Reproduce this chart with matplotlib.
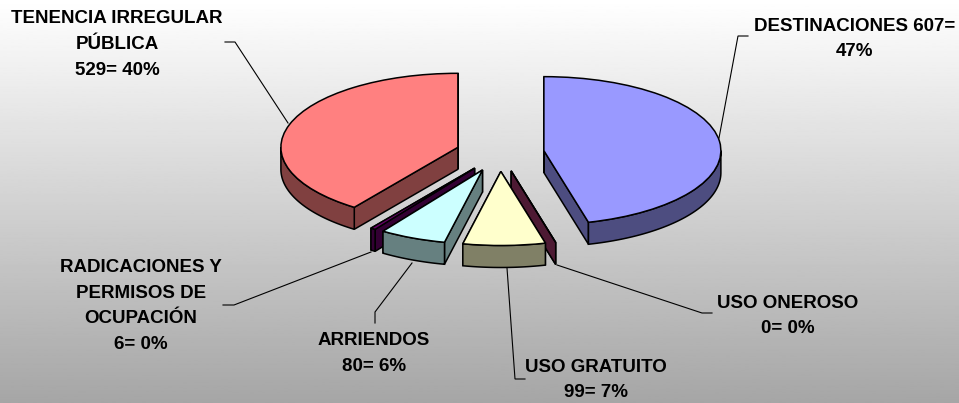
import numpy as np
import matplotlib
matplotlib.use('Agg')
import matplotlib.pyplot as plt
from matplotlib.patches import Polygon

plt.rcParams['font.family'] = ['Liberation Sans', 'DejaVu Sans']

W, H = 959, 403

categories = ['DESTINACIONES', 'USO ONEROSO', 'USO GRATUITO', 'ARRIENDOS',
              'RADICACIONES Y PERMISOS DE OCUPACION', 'TENENCIA IRREGULAR PUBLICA']
values = [607, 0, 99, 80, 6, 529]
colors = ['#9999FF', '#993366', '#FFFFCC', '#CCFFFF', '#660066', '#FF8080']
labels = ['DESTINACIONES 607=\n47%', 'USO ONEROSO\n0= 0%', 'USO GRATUITO\n99= 7%',
          'ARRIENDOS\n80= 6%', 'RADICACIONES Y\nPERMISOS DE\nOCUPACIÓN\n6= 0%',
          'TENENCIA IRREGULAR\nPÚBLICA\n529= 40%']

# where things sit in the picture, in pixels
cx, cy = 500, 153
rx, ry = 177, 74
depth = 22 / ry
label_pos = [(855, 39), (788, 316), (596, 380), (374, 353.5), (141, 306), (117, 44.5)]
leaders = [[(748, 36), (738, 36), (719, 138)],
           [(712, 313), (702, 313), (557, 265)],
           [(525, 379), (515, 379), (507, 268)],
           [(375, 323), (375, 312), (412, 263)],
           [(223, 305), (234, 305), (371, 252)],
           [(225, 42), (235, 42), (288, 123)]]
draw_order = [0, 5, 1, 4, 3, 2]


def px(x, y):
    return (x - cx) / rx, (cy - y) / ry


def darker(c):
    return tuple(v * 0.5 for v in matplotlib.colors.to_rgb(c))


fig = plt.figure(figsize=(W / 100, H / 100), dpi=100)
ax = fig.add_axes([0, 0, 1, 1])

wedges, _ = ax.pie(values, startangle=90, counterclock=False, explode=[0.25] * 6,
                   colors=colors, wedgeprops=dict(edgecolor='black', linewidth=1.1))

# pie forces equal aspect, the flattening comes from the axis limits instead
ax.set_aspect('auto')
x0, y0 = px(0, H)
x1, y1 = px(W, 0)
ax.set_xlim(x0, x1)
ax.set_ylim(y0, y1)
ax.axis('off')

grad = np.linspace(1, 0.65, 256).reshape(-1, 1)
ax.imshow(grad, cmap='gray', vmin=0, vmax=1, extent=(x0, x1, y0, y1), aspect='auto', zorder=0)

for n, i in enumerate(draw_order):
    w = wedges[i]
    base = 1 + n * 2
    wall = darker(colors[i])
    ox, oy = w.center
    for t in (w.theta1, w.theta2):
        ex, ey = ox + np.cos(np.radians(t)), oy + np.sin(np.radians(t))
        ax.add_patch(Polygon([(ox, oy), (ex, ey), (ex, ey - depth), (ox, oy - depth)],
                             facecolor=wall, edgecolor='black', linewidth=1.1, zorder=base))
    # only the part of the rim that faces the viewer
    t1, t2 = w.theta1, w.theta2
    if t1 > 0:
        t1, t2 = t1 - 360, t2 - 360
    lo, hi = max(t1, -180), min(t2, 0)
    if hi > lo:
        t = np.radians(np.linspace(lo, hi, 80))
        top = np.column_stack((ox + np.cos(t), oy + np.sin(t)))
        bot = top[::-1] - [0, depth]
        ax.add_patch(Polygon(np.vstack((top, bot)), facecolor=wall, edgecolor='black',
                             linewidth=1.1, zorder=base))
    w.set_zorder(base + 1)

for lab, pos, line in zip(labels, label_pos, leaders):
    ax.text(*px(*pos), lab, ha='center', va='center', ma='center', fontsize=13.5,
            fontweight='bold', linespacing=1.68, color='black', zorder=30)
    xs, ys = zip(*[px(*p) for p in line])
    ax.plot(xs, ys, color='black', lw=0.8, zorder=29, solid_joinstyle='miter')

fig.savefig('out.png', dpi=100)
